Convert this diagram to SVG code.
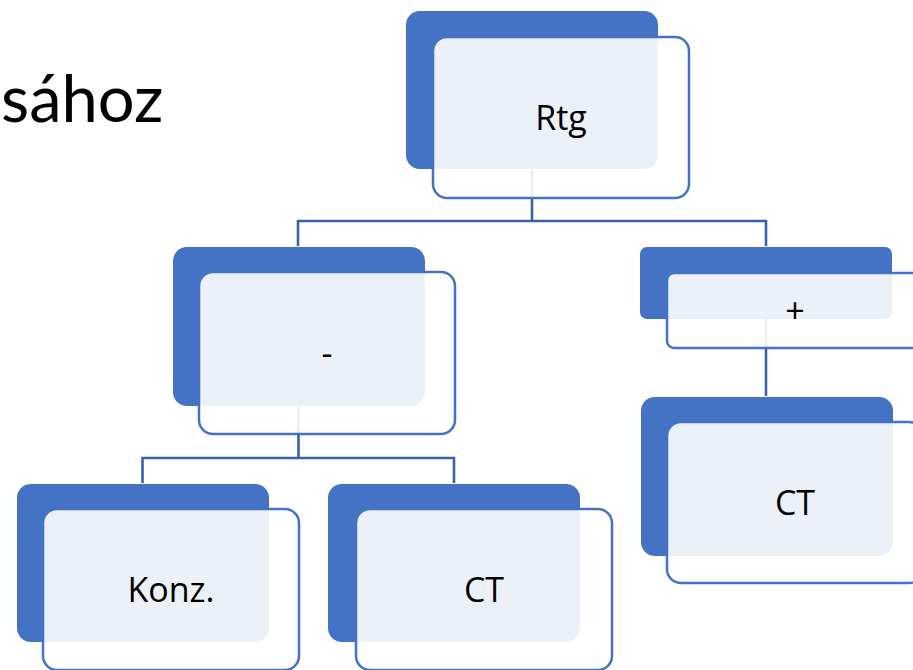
<svg xmlns="http://www.w3.org/2000/svg" width="913" height="670" viewBox="0 0 913 670">
<style>
.bg{fill:#4472C4}
.fg{fill:#FFFFFF;fill-opacity:0.9;stroke:#4472C4;stroke-width:2.5}
.lbl{font-family:"Open Sans","Noto Sans",sans-serif;font-size:34px;fill:#000;text-anchor:middle}
.title{font-family:Lato,"Open Sans",sans-serif;font-size:65px;fill:#000}
.conn{fill:none;stroke:#3A61A7;stroke-width:2.6}
</style>
<rect width="913" height="670" fill="#FFFFFF"/>
<text class="title" x="1" y="122">sához</text>
<g id="connectors">
<path class="conn" d="M532 169 V221 M298 246 V221 H766 V246"/>
<path class="conn" d="M298.5 406 V458 M142.5 483 V458 H454 V483"/>
<path class="conn" d="M766 319 V396"/>
</g>
<g id="node-rtg">
<rect class="bg" x="406" y="11" width="252" height="158" rx="14"/>
<rect class="fg" x="433" y="37" width="256" height="161" rx="14"/>
<text class="lbl" x="561" y="130">Rtg</text>
</g>
<g id="node-minus">
<rect class="bg" x="173" y="247" width="252" height="159" rx="14"/>
<rect class="fg" x="199" y="272" width="256" height="162" rx="14"/>
<text class="lbl" x="327" y="365">-</text>
</g>
<g id="node-plus">
<rect class="bg" x="640" y="247" width="252" height="72" rx="7"/>
<rect class="fg" x="667" y="273" width="256" height="75" rx="7"/>
<text class="lbl" x="795" y="323">+</text>
</g>
<g id="node-konz">
<rect class="bg" x="17" y="484" width="252" height="158" rx="14"/>
<rect class="fg" x="43" y="509" width="256" height="161" rx="14"/>
<text class="lbl" x="171" y="602">Konz.</text>
</g>
<g id="node-ct1">
<rect class="bg" x="328" y="484" width="252" height="158" rx="14"/>
<rect class="fg" x="356" y="509" width="256" height="161" rx="14"/>
<text class="lbl" x="484" y="602">CT</text>
</g>
<g id="node-ct2">
<rect class="bg" x="641" y="397" width="252" height="159" rx="14"/>
<rect class="fg" x="667" y="422" width="256" height="161" rx="14"/>
<text class="lbl" x="795" y="515">CT</text>
</g>
</svg>
